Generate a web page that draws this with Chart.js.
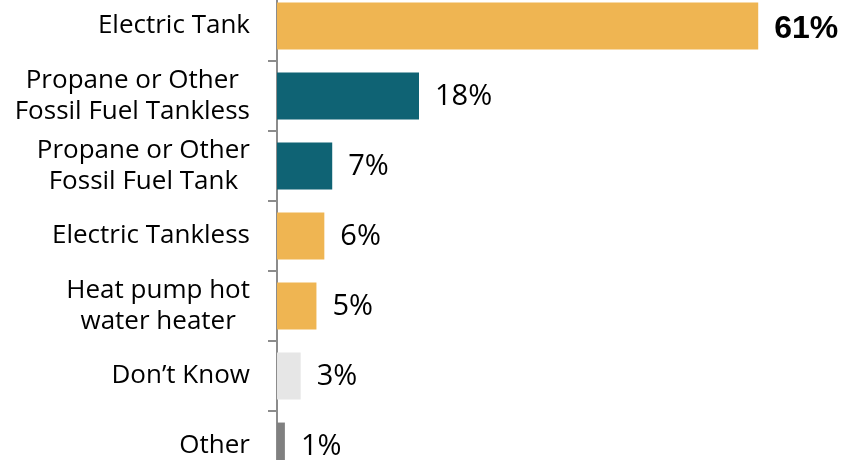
<!DOCTYPE html>
<html>
<head>
<meta charset="utf-8">
<script src="https://cdn.jsdelivr.net/npm/chart.js@4/dist/chart.umd.min.js"></script>
<style>
  html, body { margin: 0; padding: 0; background: #fff; overflow: hidden; width: 860px; height: 460px; }
  #wrap { position: absolute; left: 0; top: -9px; width: 860px; height: 490px; }
</style>
</head>
<body>
<div id="wrap"><canvas id="heaters"></canvas></div>
<script>
// Water heater types, one entry per row (multi-line names are arrays)
const categories = [
  ['Electric Tank'],
  ['Propane or Other', 'Fossil Fuel Tankless'],
  ['Propane or Other', 'Fossil Fuel Tank'],
  ['Electric Tankless'],
  ['Heat pump hot', 'water heater'],
  ['Don\u2019t Know'],
  ['Other']
];
// Share of respondents, percent
const shares = [61, 18, 7, 6, 5, 3, 1];
// Fuel group of each row, used to pick the bar colour
const groups = ['electric', 'fossil', 'fossil', 'electric', 'electric', 'unknown', 'other'];

const palette = {
  electric: '#EFB552',
  fossil: '#0F6374',
  unknown: '#E6E6E6',
  other: '#808080'
};

const LABEL_FONT = '"Open Sans", "Liberation Sans", sans-serif';
const LABEL_RIGHT = 250;     // right edge of the category name block
const LINE_HEIGHT = 31;

// Category names: each multi-line block is centred on itself and right-aligned to the axis
const categoryNames = {
  id: 'categoryNames',
  afterDraw(chart) {
    const ctx = chart.ctx;
    const yScale = chart.scales.y;
    ctx.save();
    ctx.fillStyle = '#000';
    ctx.font = '26px ' + LABEL_FONT;
    ctx.textAlign = 'center';
    ctx.textBaseline = 'middle';
    categories.forEach((lines, i) => {
      const yc = yScale.getPixelForValue(i);
      const widest = Math.max(...lines.map(l => ctx.measureText(l).width));
      const xc = LABEL_RIGHT - widest / 2;
      lines.forEach((line, j) => {
        ctx.fillText(line, xc, yc + (j - (lines.length - 1) / 2) * LINE_HEIGHT);
      });
    });
    ctx.restore();
  }
};

// Percentage labels at the end of each bar; the largest share is set in bold
const valueLabels = {
  id: 'valueLabels',
  afterDatasetsDraw(chart) {
    const ctx = chart.ctx;
    const meta = chart.getDatasetMeta(0);
    const top = Math.max(...shares);
    ctx.save();
    ctx.fillStyle = '#000';
    ctx.textAlign = 'left';
    ctx.textBaseline = 'middle';
    meta.data.forEach((bar, i) => {
      const v = shares[i];
      const isTop = v === top;
      ctx.font = isTop ? 'bold 32px "Liberation Sans", Arial, sans-serif' : '29px ' + LABEL_FONT;
      ctx.fillText(v + '%', bar.x + 16, bar.y + (isTop ? 3 : 1));
    });
    ctx.restore();
  }
};

new Chart(document.getElementById('heaters'), {
  type: 'bar',
  data: {
    labels: categories.map(c => c.join(' ')),
    datasets: [{
      data: shares,
      backgroundColor: groups.map(g => palette[g]),
      borderWidth: 0,
      barPercentage: 0.67,
      categoryPercentage: 1
    }]
  },
  options: {
    indexAxis: 'y',
    responsive: true,
    maintainAspectRatio: false,
    animation: false,
    layout: { padding: { left: 0, right: 15, top: 0, bottom: 0 } },
    plugins: {
      legend: { display: false },
      tooltip: { enabled: false }
    },
    scales: {
      x: {
        display: false,
        min: 0,
        max: 72
      },
      y: {
        z: 1,
        offset: true,
        afterFit(scale) { scale.width = 277; },
        ticks: { display: false },
        grid: {
          display: true,
          offset: true,
          drawOnChartArea: false,
          drawTicks: true,
          tickLength: 9,
          color: '#8C8C8C',
          lineWidth: 2
        },
        border: { display: true, color: '#8C8C8C', width: 2 }
      }
    }
  },
  plugins: [categoryNames, valueLabels]
});
</script>
</body>
</html>
